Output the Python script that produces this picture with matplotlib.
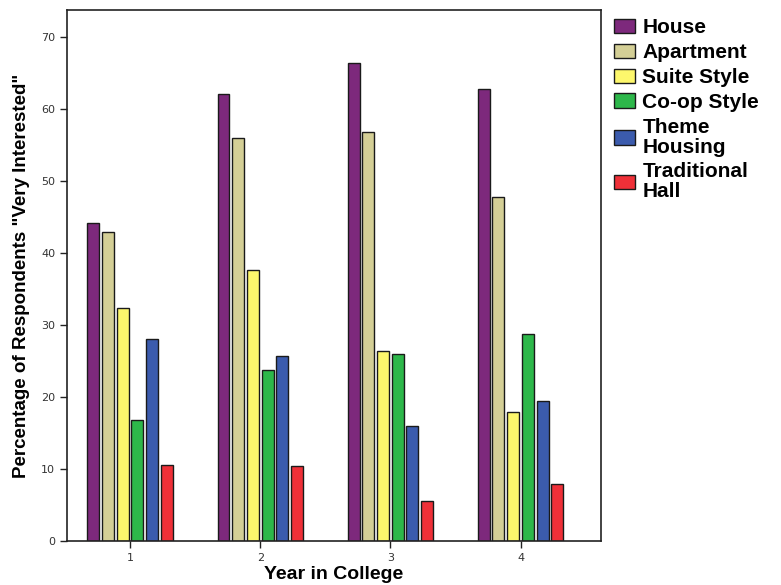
import matplotlib.pyplot as plt
import numpy as np
from matplotlib.patches import Patch

years = [1, 2, 3, 4]
housing_types = ['House', 'Apartment', 'Suite Style', 'Co-op Style', 'Theme\nHousing', 'Traditional\nHall']
house = [44.1, 62.1, 66.4, 62.8]
apartment = [42.9, 56.0, 56.8, 47.7]
suite_style = [32.3, 37.6, 26.4, 17.9]
coop_style = [16.8, 23.8, 25.9, 28.8]
theme_housing = [28.0, 25.7, 16.0, 19.4]
traditional_hall = [10.6, 10.4, 5.5, 7.9]
yticks = [0, 10, 20, 30, 40, 50, 60, 70]

series = [house, apartment, suite_style, coop_style, theme_housing, traditional_hall]
colors = ['#7d297c', '#d4cf96', '#fdf76c', '#2db74a', '#3b5bad', '#ef3038']

fig = plt.figure(figsize=(7.81, 5.85), dpi=100)
ax = fig.add_axes([0.0858, 0.0752, 0.684, 0.908])

slot = 0.113
width = 0.092
x = np.array(years, dtype=float)
for i, vals in enumerate(series):
    ax.bar(x + (i - 2.5) * slot, vals, width=width, color=colors[i],
           edgecolor='#1a1a1a', linewidth=1.0, zorder=2)

ax.set_xlim(0.515, 4.62)
ax.set_ylim(0, 73.75)
ax.set_xticks(years)
ax.set_yticks(yticks)
ax.tick_params(axis='both', direction='out', length=5, width=1, colors='#222222',
               labelsize=8, labelcolor='#333333')
for s in ax.spines.values():
    s.set_linewidth(1.2)
    s.set_color('#222222')

ax.set_xlabel('Year in College', fontsize=14, fontweight='bold', labelpad=2,
              family='Liberation Sans')
ax.set_ylabel('Percentage of Respondents "Very Interested"', fontsize=13.5,
              fontweight='bold', family='Liberation Sans', labelpad=8)

handles = [Patch(facecolor=c, edgecolor='#1a1a1a', linewidth=1.0) for c in colors]
leg = fig.legend(handles, housing_types, loc='upper left', bbox_to_anchor=(0.765, 0.997),
                 frameon=False, handlelength=1.0, handleheight=0.7, handletextpad=0.35,
                 labelspacing=0.28, borderpad=0.3,
                 prop={'weight': 'bold', 'size': 15, 'family': 'Liberation Sans'})
for t in leg.get_texts():
    t.set_linespacing(1.05)

fig.savefig('out.png', dpi=100)
